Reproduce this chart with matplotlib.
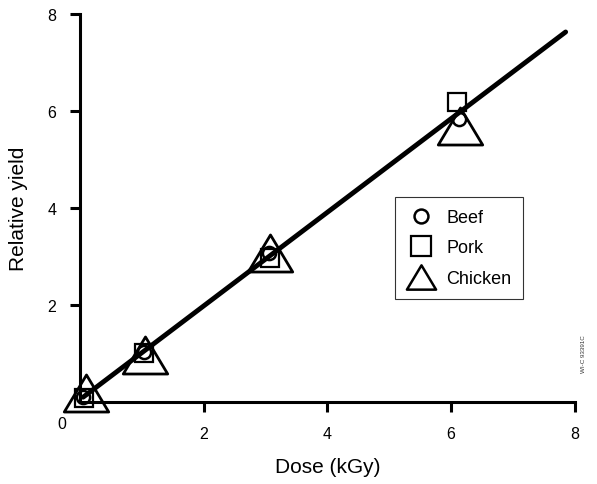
import numpy as np
import matplotlib
matplotlib.use("Agg")
import matplotlib.pyplot as plt
from matplotlib.lines import Line2D
from matplotlib.path import Path

plt.rcParams['font.family'] = ['Liberation Sans', 'DejaVu Sans']

# dose (kGy) vs relative yield for each meat
beef_x = [0.05, 1.03, 3.05, 6.12]
beef_y = [0.10, 1.03, 3.07, 5.84]
pork_x = [0.07, 1.03, 3.07, 6.10]
pork_y = [0.09, 1.01, 2.96, 6.18]
chicken_x = [0.10, 1.05, 3.07, 6.15]
chicken_y = [0.18, 0.96, 3.07, 5.69]

# fitted line end points
fit_x = [0.05, 7.85]
fit_y = [0.10, 7.63]

xticks = [2, 4, 6, 8]
yticks = [2, 4, 6, 8]

# wide triangle marker
tri = Path([(0, 1), (-1.2, -1), (1.2, -1), (0, 1)],
           [Path.MOVETO, Path.LINETO, Path.LINETO, Path.CLOSEPOLY])

fig = plt.figure(figsize=(5.97, 4.85), dpi=100)
ax = fig.add_axes([0.134, 0.169, 0.829, 0.8])

ax.plot(fit_x, fit_y, color='black', lw=3.5, solid_capstyle='round', zorder=2,
        clip_on=False)
ax.plot(chicken_x, chicken_y, ls='none', marker=tri, ms=32, mfc='none',
        mec='black', mew=2.0, zorder=3, clip_on=False)
ax.plot(pork_x, pork_y, ls='none', marker='s', ms=13.5, mfc='none',
        mec='black', mew=1.6, zorder=4, clip_on=False)
ax.plot(beef_x, beef_y, ls='none', marker='o', ms=9.5, mfc='none',
        mec='black', mew=1.8, zorder=5, clip_on=False)

ax.set_xlim(0, 8)
ax.set_ylim(0, 8)
for s in ['top', 'right']:
    ax.spines[s].set_visible(False)
for s in ['left', 'bottom']:
    ax.spines[s].set_linewidth(2.2)
ax.set_xticks(xticks)
ax.set_yticks(yticks)
ax.tick_params(direction='out', length=7, width=2.2, labelsize=11.5, pad=10)
ax.text(-0.3, -0.45, '0', ha='center', va='center', fontsize=11.5)

ax.set_xlabel('Dose (kGy)', fontsize=15, labelpad=12)
ax.set_ylabel('Relative yield', fontsize=15, labelpad=14)

handles = [
    Line2D([], [], ls='none', marker='o', ms=10, mfc='none', mec='black', mew=1.8),
    Line2D([], [], ls='none', marker='s', ms=14, mfc='none', mec='black', mew=1.6),
    Line2D([], [], ls='none', marker=tri, ms=21, mfc='none', mec='black', mew=1.8),
]
leg = ax.legend(handles, ['Beef', 'Pork', 'Chicken'], loc='upper left',
                bbox_to_anchor=(0.636, 0.528), fontsize=13, frameon=True,
                fancybox=False, edgecolor='black', handletextpad=0.6,
                labelspacing=0.75, borderpad=0.65, handlelength=1.6,
                borderaxespad=0)
leg.get_frame().set_linewidth(0.8)

fig.text(0.978, 0.27, 'WI-C 93391C', rotation=90, fontsize=4.5,
         color='#333333', ha='center', va='center')

fig.savefig('out.png', dpi=100)
